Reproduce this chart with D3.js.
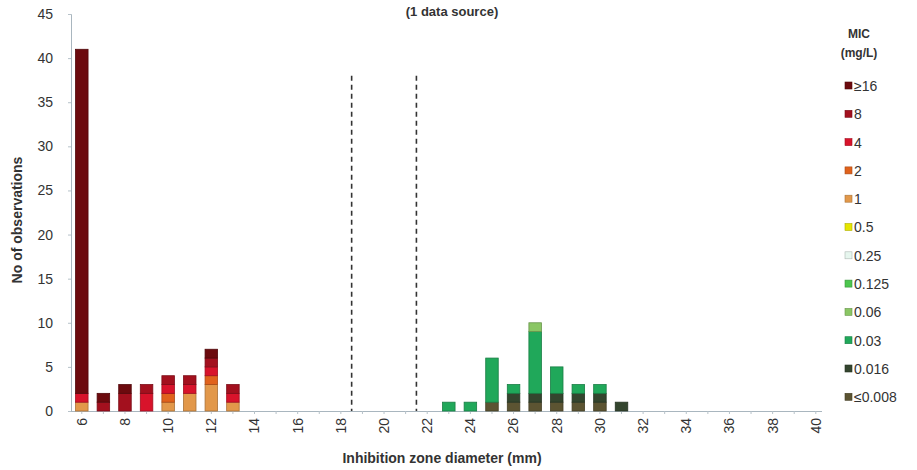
<!DOCTYPE html>
<html>
<head>
<meta charset="utf-8">
<script src="https://cdn.jsdelivr.net/npm/d3@7/dist/d3.min.js"></script>
<style>
  html, body { margin: 0; padding: 0; background: #fff; }
  svg { display: block; font-family: "Liberation Sans", Arial, sans-serif; }
</style>
</head>
<body>
<svg id="chart" width="917" height="470"></svg>
<script>
// ---- data ----
const zones = [6,7,8,9,10,11,12,13,14,15,16,17,18,19,20,21,22,23,24,25,26,27,28,29,30,31,32,33,34,35,36,37,38,39,40];
const xTickLabels = ["6","8","10","12","14","16","18","20","22","24","26","28","30","32","34","36","38","40"];
const yTicks = [0,5,10,15,20,25,30,35,40,45];
const micLabels = ["≥16","8","4","2","1","0.5","0.25","0.125","0.06","0.03","0.016","≤0.008"];
const micColors = ["#6c0a0e","#a3101e","#d8132b","#e0621c","#e2984a","#e6e600","#e6f6ee","#4cc64e","#8ac664","#20a85a","#34452e","#5c5432"];
const breakpoints = [18.5, 21.5];
// counts per zone (zones 6-13 | 14-22 | 23-31 | 32-40)
const cGe16  = [39,1,1,0,0,0,1,0, 0,0,0,0,0,0,0,0,0, 0,0,0,0,0,0,0,0,0, 0,0,0,0,0,0,0,0,0];
const c8     = [0,1,2,1,1,1,1,1,  0,0,0,0,0,0,0,0,0, 0,0,0,0,0,0,0,0,0, 0,0,0,0,0,0,0,0,0];
const c4     = [1,0,0,2,1,1,1,1,  0,0,0,0,0,0,0,0,0, 0,0,0,0,0,0,0,0,0, 0,0,0,0,0,0,0,0,0];
const c2     = [0,0,0,0,1,0,1,0,  0,0,0,0,0,0,0,0,0, 0,0,0,0,0,0,0,0,0, 0,0,0,0,0,0,0,0,0];
const c1     = [1,0,0,0,1,2,3,1,  0,0,0,0,0,0,0,0,0, 0,0,0,0,0,0,0,0,0, 0,0,0,0,0,0,0,0,0];
const c05    = [0,0,0,0,0,0,0,0,  0,0,0,0,0,0,0,0,0, 0,0,0,0,0,0,0,0,0, 0,0,0,0,0,0,0,0,0];
const c025   = [0,0,0,0,0,0,0,0,  0,0,0,0,0,0,0,0,0, 0,0,0,0,0,0,0,0,0, 0,0,0,0,0,0,0,0,0];
const c0125  = [0,0,0,0,0,0,0,0,  0,0,0,0,0,0,0,0,0, 0,0,0,0,0,0,0,0,0, 0,0,0,0,0,0,0,0,0];
const c006   = [0,0,0,0,0,0,0,0,  0,0,0,0,0,0,0,0,0, 0,0,0,0,1,0,0,0,0, 0,0,0,0,0,0,0,0,0];
const c003   = [0,0,0,0,0,0,0,0,  0,0,0,0,0,0,0,0,0, 1,1,5,1,7,3,1,1,0, 0,0,0,0,0,0,0,0,0];
const c0016  = [0,0,0,0,0,0,0,0,  0,0,0,0,0,0,0,0,0, 0,0,0,1,1,1,1,1,1, 0,0,0,0,0,0,0,0,0];
const cLe0008= [0,0,0,0,0,0,0,0,  0,0,0,0,0,0,0,0,0, 0,0,1,1,1,1,1,1,0, 0,0,0,0,0,0,0,0,0];
const seriesCounts = [cGe16,c8,c4,c2,c1,c05,c025,c0125,c006,c003,c0016,cLe0008];

// ---- build table ----
const rows = zones.map((z,i) => {
  const r = {zone: z};
  micLabels.forEach((m,k) => r[m] = seriesCounts[k][i]);
  return r;
});
const stackKeys = micLabels.slice().reverse(); // lowest MIC at bottom
const stacked = d3.stack().keys(stackKeys)(rows);
const color = d3.scaleOrdinal().domain(micLabels).range(micColors);

const svg = d3.select("#chart");
const x = d3.scaleBand().domain(zones).range([71, 826.6]).paddingInner(0.42).paddingOuter(0.21);
const y = d3.scaleLinear().domain([0,45]).range([411,14]);
const step = x.step();

// y axis
const yAxis = svg.append("g").attr("transform","translate(71,0)")
  .call(d3.axisLeft(y).tickValues(yTicks).tickSize(3).tickPadding(15));
yAxis.select(".domain").attr("stroke","#a9b6bf");
yAxis.selectAll(".tick line").attr("stroke","#b7c2c9");
yAxis.selectAll("text").attr("font-size",14).attr("fill","#333");

// x axis
const xAxis = svg.append("g").attr("transform","translate(0,411)")
  .call(d3.axisBottom(x).tickSize(3).tickFormat(d => xTickLabels.includes(String(d)) ? d : ""));
xAxis.select(".domain").attr("stroke","#a9b6bf").attr("d", "M71,0.5H822");
xAxis.selectAll(".tick line").attr("stroke","#b7c2c9");
xAxis.selectAll("text")
  .attr("font-size",14).attr("fill","#333")
  .attr("transform","rotate(-90)")
  .attr("text-anchor","end")
  .attr("x",-7).attr("y",0).attr("dy","0.35em");

// bars
svg.append("g").selectAll("g").data(stacked).join("g")
  .attr("fill", d => color(d.key))
  .attr("stroke", d => d3.color(color(d.key)).darker(0.8))
  .attr("stroke-width", 0.8)
  .selectAll("rect").data(d => d.filter(v => v[1]-v[0] > 0)).join("rect")
  .attr("x", d => x(d.data.zone))
  .attr("width", x.bandwidth())
  .attr("y", d => y(d[1]))
  .attr("height", d => y(d[0]) - y(d[1]));

// breakpoint dashed lines
svg.append("g").selectAll("line").data(breakpoints).join("line")
  .attr("x1", d => x(Math.floor(d)) + x.bandwidth()/2 + step/2)
  .attr("x2", d => x(Math.floor(d)) + x.bandwidth()/2 + step/2)
  .attr("y1", y(38)).attr("y2", y(0))
  .attr("stroke","#333").attr("stroke-width",1.6).attr("stroke-dasharray","5,4");

// titles
svg.append("text").attr("x",452).attr("y",16).attr("text-anchor","middle")
  .attr("font-size",13).attr("font-weight","bold").attr("fill","#333").text("(1 data source)");
svg.append("text").attr("x",442).attr("y",463).attr("text-anchor","middle")
  .attr("font-size",14).attr("font-weight","bold").attr("fill","#333").text("Inhibition zone diameter (mm)");
svg.append("text").attr("transform","translate(22,220) rotate(-90)").attr("text-anchor","middle")
  .attr("font-size",14).attr("font-weight","bold").attr("fill","#333").text("No of observations");

// legend
const lg = svg.append("g");
lg.append("text").attr("x",859).attr("y",38).attr("text-anchor","middle")
  .attr("font-size",12).attr("font-weight","bold").attr("fill","#333").text("MIC");
lg.append("text").attr("x",859).attr("y",57).attr("text-anchor","middle")
  .attr("font-size",12).attr("font-weight","bold").attr("fill","#333").text("(mg/L)");
const li = lg.selectAll("g.item").data(micLabels).join("g").attr("class","item")
  .attr("transform",(d,i) => `translate(845,${86 + i*28.3})`);
li.append("rect").attr("x",0).attr("y",-4).attr("width",7).attr("height",7)
  .attr("fill", d => color(d))
  .attr("stroke", d => d3.color(color(d)).darker(0.8)).attr("stroke-width",0.6);
li.append("text").attr("x",9).attr("y",0).attr("dy","0.35em")
  .attr("font-size",14).attr("fill","#333").text(d => d);
</script>
</body>
</html>
